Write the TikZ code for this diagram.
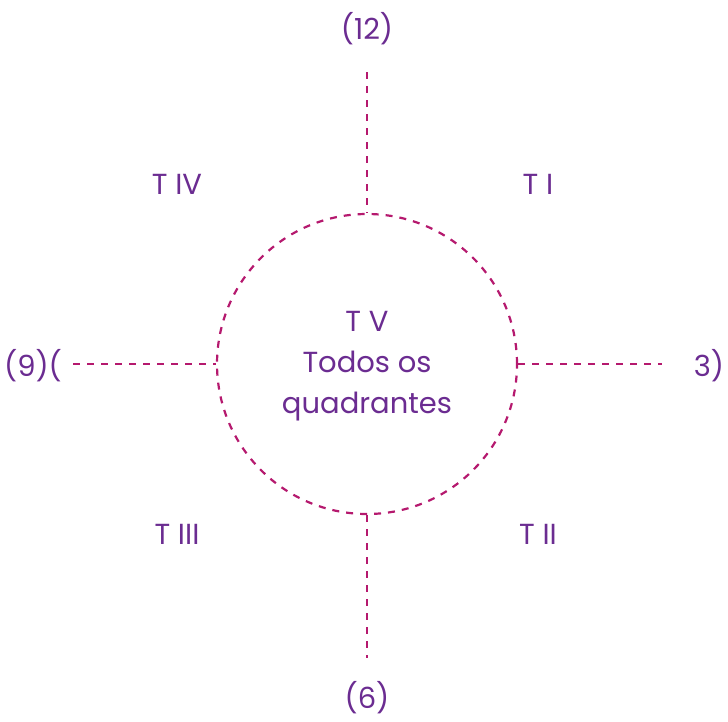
\documentclass[tikz,border=0pt]{standalone}
\usepackage{fontspec}
\setmainfont{Poppins}
\definecolor{txtpurple}{HTML}{6B2C91}
\definecolor{linemag}{HTML}{B5196E}
\begin{document}
\begin{tikzpicture}[x=1pt,y=-1pt,
  lbl/.style={text=txtpurple,font=\fontsize{29}{41}\selectfont,inner sep=0pt},
  dline/.style={draw=linemag,line width=2.2pt,dash pattern=on 7pt off 7pt}]
\useasboundingbox (0,0) rectangle (728,721);
\node[circle,minimum size=300pt,inner sep=0pt,dline] (c) at (367,364) {};
\coordinate (t) at (367,72);
\coordinate (b) at (367,658);
\coordinate (l) at (73,364);
\coordinate (r) at (662,364);
\draw[dline] (t) -- (c.north);
\draw[dline] (c.south) -- (b);
\draw[dline] (l) -- (c.west);
\draw[dline] (c.east) -- (r);
\node[lbl] (n12) at (367,29) {(12)};
\node[lbl] (n6) at (367,698) {(6)};
\node[lbl] (n9) at (33,366) {(9)(};
\node[lbl] (n3) at (709,366) {3)};
\node[lbl] (t4) at (177,184) {T IV};
\node[lbl] (t1) at (538,184) {T I};
\node[lbl] (t3) at (177,534) {T III};
\node[lbl] (t2) at (538,534) {T II};
\node[lbl,align=center] (t5) at (367,366) {T V\\Todos os\\quadrantes};
\end{tikzpicture}
\end{document}
